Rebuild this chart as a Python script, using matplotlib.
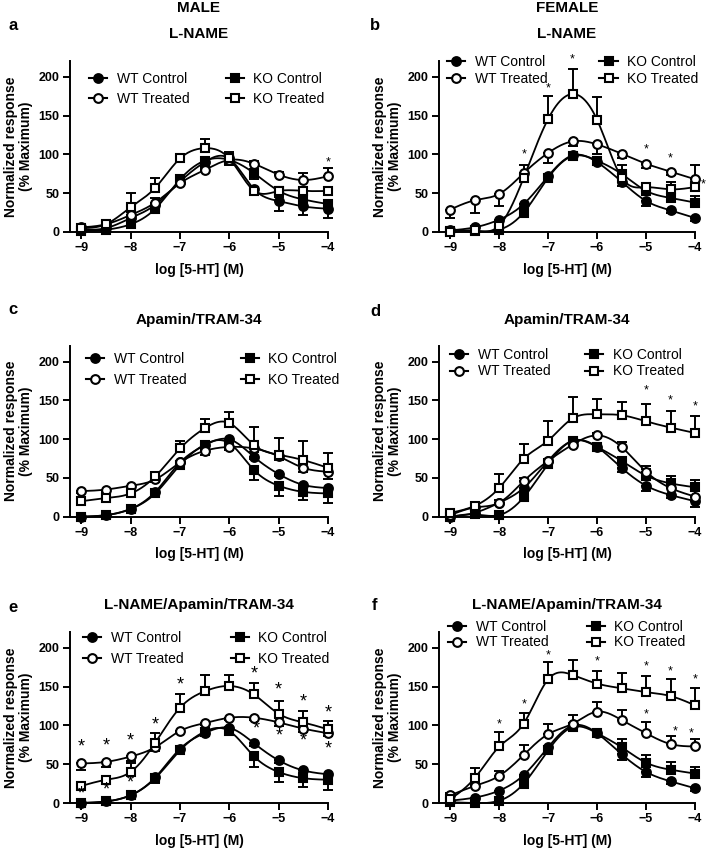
import numpy as np
import matplotlib
matplotlib.use('Agg')
import matplotlib.pyplot as plt
from matplotlib.lines import Line2D

plt.rcParams['font.family'] = ['Liberation Sans', 'DejaVu Sans']

# ---------------- data ----------------
conc = [-9, -8.5, -8, -7.5, -7, -6.5, -6, -5.5, -5, -4.5, -4]
series_names = ['WT Control', 'WT Treated', 'KO Control', 'KO Treated']
x_ticks = [-9, -8, -7, -6, -5, -4]
y_ticks = [0, 50, 100, 150, 200]
panel_letters = ['a', 'b', 'c', 'd', 'e', 'f']
panel_titles = ['L-NAME', 'L-NAME', 'Apamin/TRAM-34', 'Apamin/TRAM-34',
                'L-NAME/Apamin/TRAM-34', 'L-NAME/Apamin/TRAM-34']
column_titles = ['MALE', 'FEMALE']

# Panel a (male, L-NAME)
a_wt_ctrl = [3, 5, 18, 35, 65, 90, 95, 55, 40, 33, 30]
a_wt_trt = [6, 10, 22, 38, 63, 80, 93, 88, 74, 67, 72]
a_ko_ctrl = [1, 3, 10, 30, 68, 92, 93, 76, 53, 42, 36]
a_ko_trt = [5, 10, 32, 57, 95, 108, 95, 53, 53, 53, 53]
a_wt_ctrl_err = [2, 2, 3, 4, 5, 6, 5, 5, 13, 11, 12]
a_wt_trt_err = [2, 2, 4, 6, 4, 3, 6, 3, 3, 9, 10]
a_ko_ctrl_err = [1, 1, 3, 4, 5, 8, 6, 8, 8, 6, 4]
a_ko_trt_err = [2, 2, 18, 13, 5, 12, 8, 3, 3, 3, 3]
a_star_x = [-4]
a_star_y = [90]

# Panel b (female, L-NAME)
b_wt_ctrl = [2, 6, 16, 36, 72, 99, 90, 65, 40, 28, 18]
b_wt_trt = [29, 41, 49, 76, 102, 117, 113, 101, 88, 78, 68]
b_ko_ctrl = [1, 1, 3, 25, 70, 98, 92, 75, 53, 44, 38]
b_ko_trt = [0, 2, 8, 70, 146, 178, 145, 70, 58, 55, 58]
b_wt_ctrl_err = [1, 2, 3, 4, 3, 3, 3, 6, 6, 3, 4]
b_wt_trt_err = [11, 16, 16, 8, 13, 6, 12, 5, 6, 4, 4]
b_ko_ctrl_err = [1, 1, 2, 3, 3, 3, 3, 12, 5, 5, 8]
b_ko_trt_err = [1, 1, 3, 16, 29, 32, 29, 3, 3, 9, 28]
b_star_x = [-7.5, -7, -6.5, -5, -4.5, -3.83]
b_star_y = [100, 185, 222, 106, 95, 61]

# Panel c (male, Apamin/TRAM-34)
c_wt_ctrl = [0, 2, 10, 32, 70, 92, 100, 77, 55, 41, 37]
c_wt_trt = [33, 35, 40, 48, 70, 85, 90, 88, 78, 63, 58]
c_ko_ctrl = [0, 2, 10, 30, 67, 93, 95, 60, 40, 32, 30]
c_ko_trt = [20, 24, 30, 52, 88, 114, 121, 92, 80, 73, 63]
c_wt_ctrl_err = [1, 1, 2, 3, 3, 3, 3, 3, 3, 3, 3]
c_wt_trt_err = [3, 3, 3, 3, 4, 6, 4, 4, 5, 5, 10]
c_ko_ctrl_err = [1, 1, 2, 4, 4, 5, 6, 13, 13, 11, 12]
c_ko_trt_err = [3, 3, 3, 4, 10, 12, 14, 24, 22, 25, 19]
c_star_x = []
c_star_y = []

# Panel d (female, Apamin/TRAM-34)
d_wt_ctrl = [0, 5, 18, 37, 72, 98, 90, 63, 40, 28, 20]
d_wt_trt = [2, 12, 18, 46, 72, 93, 105, 90, 58, 37, 26]
d_ko_ctrl = [0, 3, 2, 25, 68, 98, 90, 72, 53, 43, 38]
d_ko_trt = [5, 14, 37, 75, 98, 127, 132, 131, 123, 115, 108]
d_wt_ctrl_err = [1, 2, 3, 4, 3, 3, 3, 5, 7, 4, 7]
d_wt_trt_err = [2, 3, 3, 4, 3, 3, 3, 6, 7, 8, 8]
d_ko_ctrl_err = [1, 2, 2, 3, 3, 3, 3, 5, 9, 10, 9]
d_ko_trt_err = [3, 3, 18, 19, 26, 27, 20, 17, 23, 22, 22]
d_star_x = [-5, -4.5, -4]
d_star_y = [163, 150, 142]

# Panel e (male, L-NAME/Apamin/TRAM-34)
e_wt_ctrl = [0, 2, 10, 33, 70, 90, 97, 77, 55, 42, 37]
e_wt_trt = [51, 53, 60, 72, 93, 103, 110, 110, 104, 96, 90]
e_ko_ctrl = [0, 2, 10, 32, 68, 92, 93, 60, 40, 32, 30]
e_ko_trt = [22, 30, 40, 78, 123, 144, 151, 140, 115, 104, 95]
e_wt_ctrl_err = [1, 1, 2, 3, 3, 3, 3, 3, 3, 3, 3]
e_wt_trt_err = [9, 6, 6, 5, 3, 3, 3, 3, 5, 4, 4]
e_ko_ctrl_err = [1, 1, 2, 6, 5, 5, 5, 13, 13, 11, 13]
e_ko_trt_err = [3, 3, 12, 12, 18, 21, 14, 15, 17, 15, 11]
e_star_x = [-9, -8.5, -8, -7.5, -7, -5.5, -5, -4.5, -4,
            -9, -8.5, -8, -5.46, -4.98, -4.5, -4]
e_star_y = [72, 74, 80, 101, 152, 167, 146, 130, 116,
            12, 17, 26, 95, 87, 80, 70]

# Panel f (female, L-NAME/Apamin/TRAM-34)
f_wt_ctrl = [3, 7, 16, 36, 72, 100, 90, 63, 40, 28, 19]
f_wt_trt = [10, 22, 35, 62, 89, 102, 118, 107, 90, 76, 73]
f_ko_ctrl = [1, 0, 3, 25, 68, 98, 90, 72, 52, 43, 38]
f_ko_trt = [5, 32, 73, 102, 160, 165, 154, 148, 143, 138, 126]
f_wt_ctrl_err = [1, 1, 2, 3, 3, 3, 3, 8, 7, 4, 4]
f_wt_trt_err = [3, 3, 6, 13, 13, 11, 12, 13, 14, 10, 10]
f_ko_ctrl_err = [1, 1, 2, 3, 3, 3, 3, 10, 10, 10, 8]
f_ko_trt_err = [3, 13, 18, 14, 22, 19, 16, 20, 21, 22, 23]
f_star_x = [-8, -7.5, -7, -6, -5, -4.5, -4, -5, -4.41, -4.07]
f_star_y = [101, 127, 190, 183, 176, 170, 159, 114, 92, 90]

panels = [
    ([a_wt_ctrl, a_wt_trt, a_ko_ctrl, a_ko_trt],
     [a_wt_ctrl_err, a_wt_trt_err, a_ko_ctrl_err, a_ko_trt_err], a_star_x, a_star_y),
    ([b_wt_ctrl, b_wt_trt, b_ko_ctrl, b_ko_trt],
     [b_wt_ctrl_err, b_wt_trt_err, b_ko_ctrl_err, b_ko_trt_err], b_star_x, b_star_y),
    ([c_wt_ctrl, c_wt_trt, c_ko_ctrl, c_ko_trt],
     [c_wt_ctrl_err, c_wt_trt_err, c_ko_ctrl_err, c_ko_trt_err], c_star_x, c_star_y),
    ([d_wt_ctrl, d_wt_trt, d_ko_ctrl, d_ko_trt],
     [d_wt_ctrl_err, d_wt_trt_err, d_ko_ctrl_err, d_ko_trt_err], d_star_x, d_star_y),
    ([e_wt_ctrl, e_wt_trt, e_ko_ctrl, e_ko_trt],
     [e_wt_ctrl_err, e_wt_trt_err, e_ko_ctrl_err, e_ko_trt_err], e_star_x, e_star_y),
    ([f_wt_ctrl, f_wt_trt, f_ko_ctrl, f_ko_trt],
     [f_wt_ctrl_err, f_wt_trt_err, f_ko_ctrl_err, f_ko_trt_err], f_star_x, f_star_y),
]

# ---------------- style ----------------
markers = ['o', 'o', 's', 's']
facecolors = ['black', 'white', 'black', 'white']
# error-bar direction per panel per series (+1 up, -1 down)
err_dirs = [
    [-1, 1, -1, 1],
    [-1, -1, 1, 1],
    [-1, -1, -1, 1],
    [-1, 1, 1, 1],
    [-1, -1, -1, 1],
    [-1, 1, 1, 1],
]
# legend: (x offset px, first-row centre px below axes top, labelspacing, columnspacing)
legend_cfg = [
    (19, 19, 0.45, 2.6),
    (8, 2, 0.2, 3.75),
    (16, 14, 0.5, 3.9),
    (11, 10, 0.2, 2.5),
    (13, 7, 0.5, 3.4),
    (9, -4, 0.1, 2.75),
]
star_sizes = [9, 9, 9, 9, 13, 9]

W, H = 709, 848
col_left = [70, 439]
col_width = [258, 256]
row_top = [61, 345.7, 632]
ax_h = 171
title_y = [34, 320, 605]
letter_pos = [(13, 25), (375, 25), (13, 310), (375, 312), (13, 607), (375, 605)]


def smooth_curve(x, y, lam=2e-4, step=0.02):
    """Penalised (Whittaker) smoothing of the data on a fine grid."""
    x = np.asarray(x, float)
    y = np.asarray(y, float)
    n = int(round((x[-1] - x[0]) / step)) + 1
    grid = np.linspace(x[0], x[-1], n)
    idx = np.round((x - x[0]) / step).astype(int)
    w = np.zeros(n)
    z0 = np.zeros(n)
    w[idx] = 1.0
    z0[idx] = y
    D = np.diff(np.eye(n), n=2, axis=0) / step**2
    A = np.diag(w) + lam * step * (D.T @ D)
    z = np.linalg.solve(A, w * z0)
    return grid, z


fig = plt.figure(figsize=(W / 100, H / 100), dpi=100)

for i, (vals, errs, sx, sy) in enumerate(panels):
    r, c = divmod(i, 2)
    left = col_left[c] / W
    bottom = 1 - (row_top[r] + ax_h) / H
    ax = fig.add_axes([left, bottom, col_width[c] / W, ax_h / H])
    handles = []
    for j in range(4):
        y = np.asarray(vals[j], float)
        e = np.asarray(errs[j], float)
        if err_dirs[i][j] > 0:
            yerr = [np.zeros_like(e), e]
        else:
            yerr = [e, np.zeros_like(e)]
        ax.errorbar(conc, y, yerr=yerr, fmt='none', ecolor='black',
                    elinewidth=1.4, capsize=3.5, capthick=1.4, zorder=2,
                    clip_on=False)
        gx, gz = smooth_curve(conc, y)
        ax.plot(gx, gz, color='black', lw=1.3, zorder=3, clip_on=False)
        ax.plot(conc, y, linestyle='none', marker=markers[j], ms=6.3,
                mfc=facecolors[j], mec='black', mew=1.5, zorder=4 + (j % 2),
                clip_on=False)
        handles.append(Line2D([], [], color='black', lw=1.5, marker=markers[j],
                              ms=6.3, mfc=facecolors[j], mec='black', mew=1.5))
    for k in range(len(sx)):
        ax.text(sx[k], sy[k], '*', ha='center', va='center',
                fontsize=star_sizes[i], clip_on=False, zorder=6)

    ax.set_xlim(-9.23, -4)
    ax.set_ylim(0, 220.6)
    ax.set_xticks(x_ticks)
    ax.set_yticks(y_ticks)
    for s in ['top', 'right']:
        ax.spines[s].set_visible(False)
    for s in ['left', 'bottom']:
        ax.spines[s].set_linewidth(1.4)
    ax.tick_params(width=1.4, length=5, labelsize=9, pad=2.5)
    for lab in ax.get_xticklabels() + ax.get_yticklabels():
        lab.set_fontweight('bold')
    ax.set_xlabel('log [5-HT] (M)', fontsize=10, fontweight='bold', labelpad=6)
    ax.set_ylabel('Normalized response\n(% Maximum)', fontsize=10,
                  fontweight='bold', labelpad=4, linespacing=1.05)

    xo, yo, ls, cs = legend_cfg[i]
    ax.legend(handles, series_names, ncol=2, loc='upper left',
              bbox_to_anchor=(xo / col_width[c], 1 - (yo - 8) / ax_h),
              frameon=False, fontsize=10, handlelength=1.3,
              handletextpad=0.7, labelspacing=ls, columnspacing=cs,
              borderpad=0, borderaxespad=0)

    cx = (col_left[c] + col_width[c] / 2) / W
    fig.text(cx, 1 - title_y[r] / H, panel_titles[i], ha='center',
             va='center', fontsize=11, fontweight='bold')
    lx, ly = letter_pos[i]
    fig.text(lx / W, 1 - ly / H, panel_letters[i], ha='center', va='center',
             fontsize=12, fontweight='bold')

for c in range(2):
    cx = (col_left[c] + col_width[c] / 2) / W
    fig.text(cx, 1 - 8 / H, column_titles[c], ha='center', va='center',
             fontsize=11, fontweight='bold')

fig.savefig('out.png', dpi=100)
